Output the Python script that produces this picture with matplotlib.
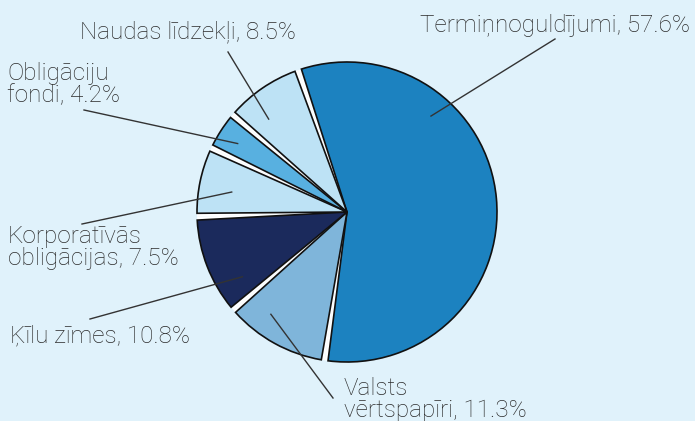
import numpy as np
import matplotlib
matplotlib.use("Agg")
import matplotlib.pyplot as plt

# data
labels = ["Termiņnoguldījumi, 57.6%", "Valsts\nvērtspapīri, 11.3%", "Ķīlu zīmes, 10.8%",
          "Korporatīvās\nobligācijas, 7.5%", "Obligāciju\nfondi, 4.2%", "Naudas līdzekļi, 8.5%"]
values = [57.6, 11.3, 10.8, 7.5, 4.2, 8.5]
colors = ["#1c82c0", "#7fb5da", "#1b2a5c", "#bde2f5", "#58b0e0", "#bde2f5"]

# layout (pixels from top-left of the 695x421 picture); y = baseline of last text line
text_pos = [(420, 32), (344, 417), (10, 342), (8, 265), (7, 102), (80, 38)]
line_out = [(555, 39), (333, 398), (90, 319), (82, 224), (84, 110), (228, 52)]
tip_frac = [0.71, 0.31, 0.77, 0.57, 0.55, 0.69]   # where inside the wedge the leader ends
tip_rad = [0.85, 0.85, 0.82, 0.78, 0.86, 0.81]

W, H = 695, 421
CX, CY, R = 347, 212, 150

def px(x, y):
    return (x - CX) / R, (CY - y) / R

plt.rcParams['font.family'] = ["Roboto", "DejaVu Sans"]

bg = "#e0f2fb"
fig = plt.figure(figsize=(W / 100, H / 100), dpi=100, facecolor=bg)
ax = fig.add_axes([0, 0, 1, 1])
ax.set_facecolor(bg)

# white disk underneath -> white gaps between slices
ax.pie(values, colors=["white"] * len(values), startangle=109, counterclock=False,
       wedgeprops=dict(linewidth=0))
wedges, _ = ax.pie(values, colors=colors, startangle=109, counterclock=False,
                   wedgeprops=dict(edgecolor="#111111", linewidth=1.2))
gap = 1.3
for w in wedges:
    t1, t2 = w.theta1, w.theta2
    w.set_theta1(t1 + gap)
    w.set_theta2(t2 - gap)

for i, w in enumerate(wedges):
    ang = np.deg2rad(w.theta1 - gap + tip_frac[i] * (w.theta2 - w.theta1 + 2 * gap))
    tx, ty = tip_rad[i] * np.cos(ang), tip_rad[i] * np.sin(ang)
    ox, oy = px(*line_out[i])
    ax.plot([ox, tx], [oy, ty], color="#333333", lw=1.0, zorder=5)
    lx, ly = px(*text_pos[i])
    ax.text(lx, ly, labels[i], ha="left", va="baseline", fontsize=17.5, fontweight="light",
            color="#2b2b2b", linespacing=0.95, zorder=6)

x0, y0 = px(0, H)
x1, y1 = px(W, 0)
ax.set_xlim(x0, x1)
ax.set_ylim(y0, y1)
ax.set_aspect("equal")
ax.axis("off")

fig.savefig("out.png", dpi=100, facecolor=bg)
